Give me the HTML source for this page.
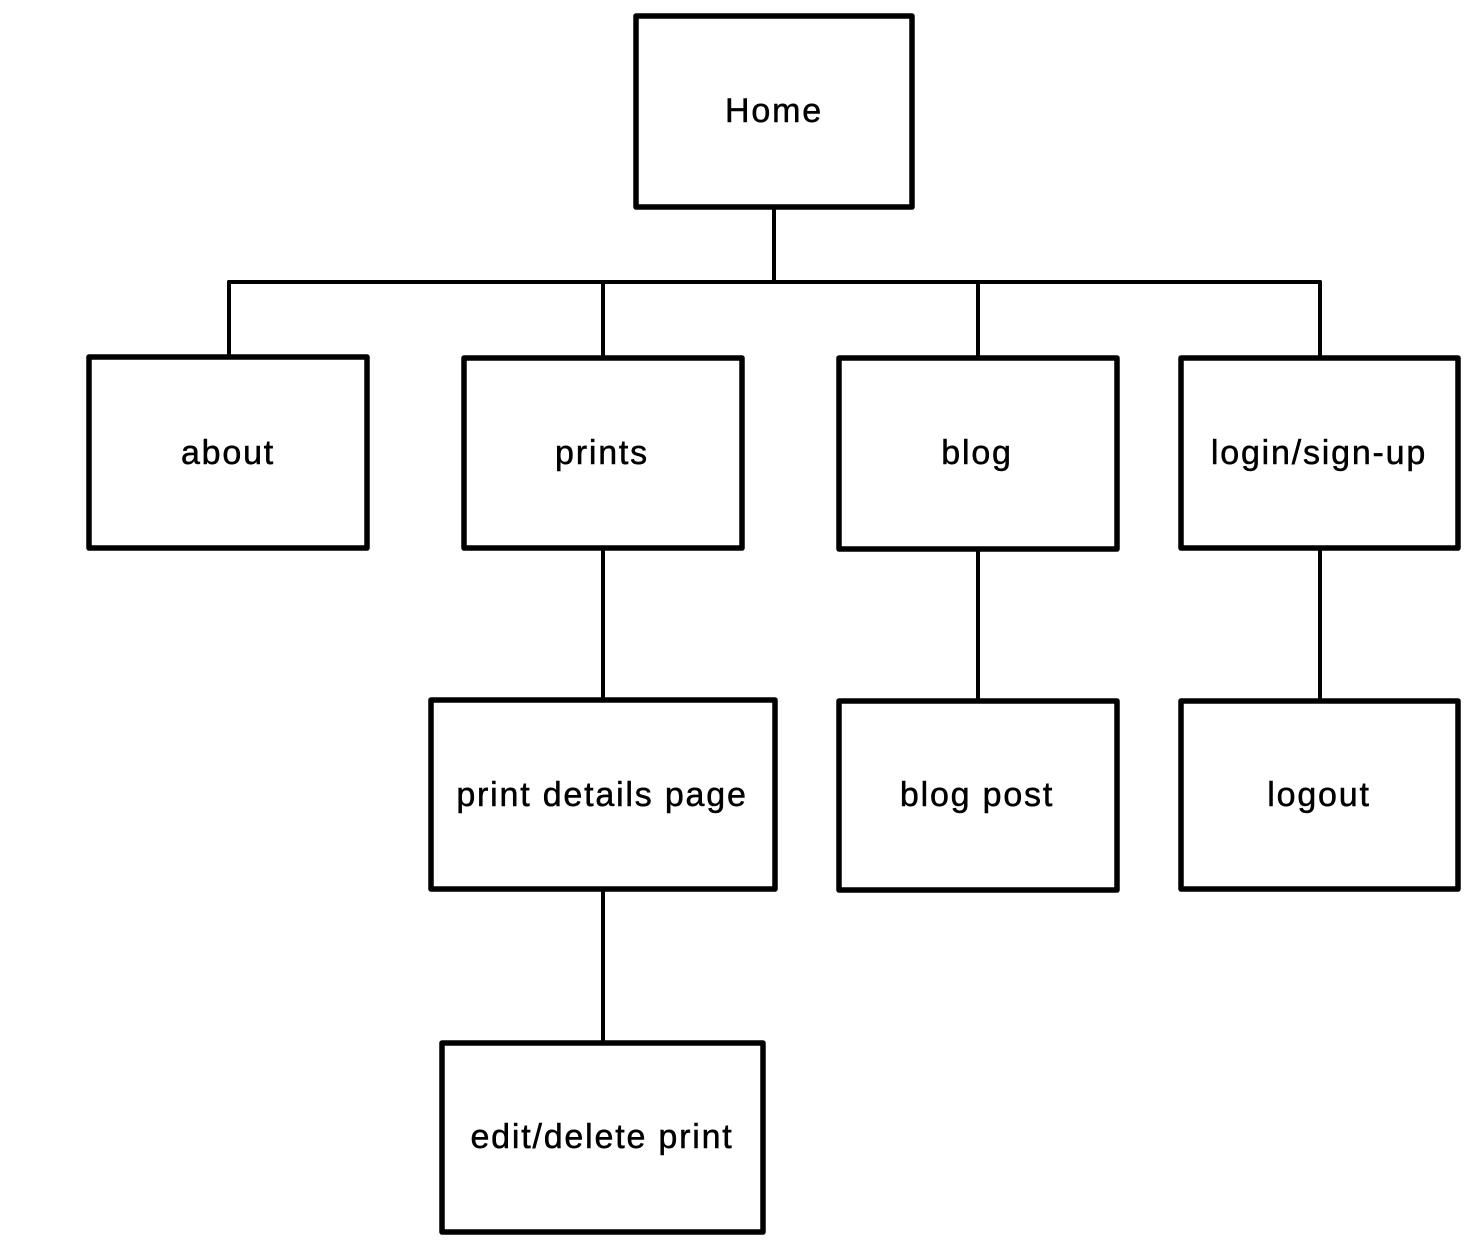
<!DOCTYPE html>
<html>
<head>
<meta charset="utf-8">
<style>
  html,body{margin:0;padding:0;background:#fff;}
  svg{display:block;}
  text{font-family:"Liberation Sans","DejaVu Sans",sans-serif;font-size:34px;letter-spacing:1.8px;fill:#000;stroke:#000;stroke-width:0.5px;text-anchor:middle;dominant-baseline:central;}
</style>
</head>
<body>
<svg width="1479" height="1251" viewBox="0 0 1479 1251" xmlns="http://www.w3.org/2000/svg">
  <g stroke="#000" stroke-width="4" fill="none" stroke-linecap="round">
    <line x1="774" y1="207" x2="774" y2="282"/>
    <line x1="229" y1="282" x2="1320" y2="282"/>
    <line x1="229" y1="282" x2="229" y2="357"/>
    <line x1="603" y1="282" x2="603" y2="358"/>
    <line x1="978" y1="282" x2="978" y2="358"/>
    <line x1="1320" y1="282" x2="1320" y2="358"/>
    <line x1="603" y1="548" x2="603" y2="700"/>
    <line x1="603" y1="889" x2="603" y2="1043"/>
    <line x1="978" y1="549" x2="978" y2="701"/>
    <line x1="1320" y1="548" x2="1320" y2="701"/>
  </g>
  <g stroke="#000" stroke-width="5.5" fill="#fff" stroke-linejoin="round">
    <rect x="636" y="16" width="276" height="191"/>
    <rect x="89" y="357" width="278" height="191"/>
    <rect x="464" y="358" width="278" height="190"/>
    <rect x="839" y="358" width="278" height="191"/>
    <rect x="1181" y="358" width="277" height="190"/>
    <rect x="431" y="700" width="344" height="189"/>
    <rect x="839" y="701" width="278" height="189"/>
    <rect x="1181" y="701" width="277" height="188"/>
    <rect x="442" y="1043" width="321" height="189"/>
  </g>
  <text x="774" y="111">Home</text>
  <text x="228" y="453">about</text>
  <text x="602" y="453">prints</text>
  <text x="977" y="453">blog</text>
  <text x="1319" y="453">login/sign-up</text>
  <text x="602" y="795">print details page</text>
  <text x="977" y="795">blog post</text>
  <text x="1319" y="795">logout</text>
  <text x="602" y="1137">edit/delete print</text>
</svg>
</body>
</html>
